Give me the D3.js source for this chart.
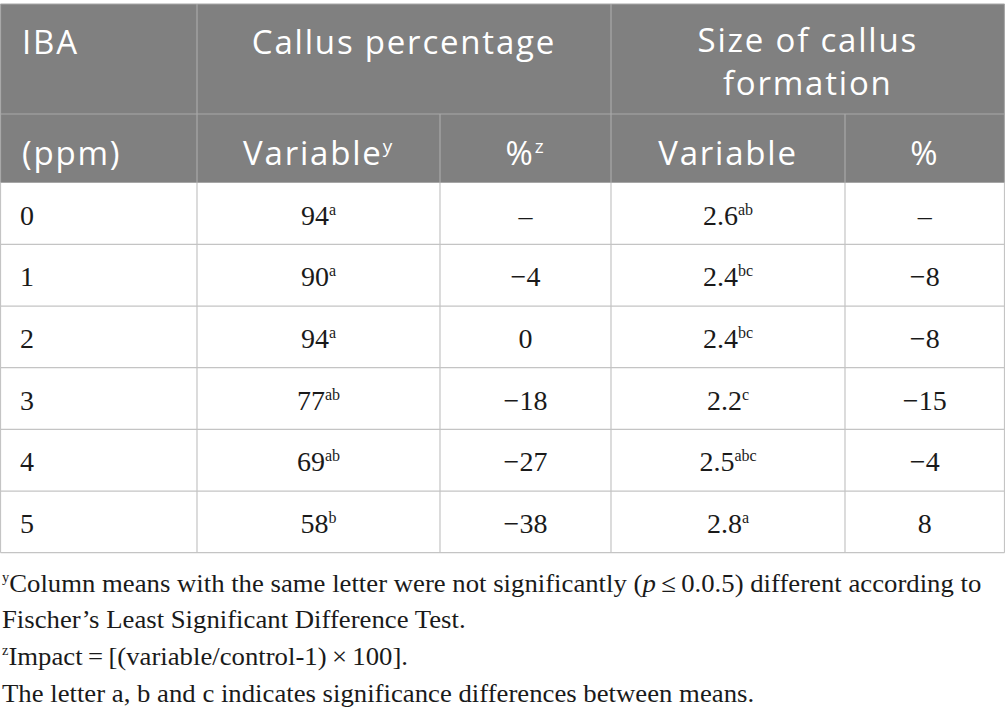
<!DOCTYPE html>
<html>
<head>
<meta charset="utf-8">
<script src="https://cdn.jsdelivr.net/npm/d3@7"></script>
<style>
  body { margin: 0; background: #fff; }
  .head { font-family: "Open Sans", sans-serif; fill: #fff; }
  .cell { font-family: "Liberation Serif", serif; fill: #1a1a1a; }
  .note { font-family: "Liberation Serif", serif; fill: #1a1a1a; }
</style>
</head>
<body>
<svg id="table"></svg>
<script>
// DATA
const iba = ["0", "1", "2", "3", "4", "5"]
const callusPct = [94, 90, 94, 77, 69, 58]
const callusPctSig = ["a", "a", "a", "ab", "ab", "b"]
const callusImpact = [null, -4, 0, -18, -27, -38]
const callusSize = [2.6, 2.4, 2.4, 2.2, 2.5, 2.8]
const callusSizeSig = ["ab", "bc", "bc", "c", "abc", "a"]
const sizeImpact = [null, -8, -8, -15, -4, 8]

const width = 1005
const height = 718

const svg = d3.select("#table").attr("width", width).attr("height", height)

// column edges and row bands
const edges = [0.5, 197, 440, 611, 845, 1004.5]
const tableTop = 4, head1 = 114, head2 = 182.7, tableBottom = 552.7

const y = d3.scaleBand()
  .domain(iba)
  .range([head2, tableBottom])

const mid = function(i) { return (edges[i] + edges[i + 1]) / 2 }

function fmt(v) {
  if (v === null) return "\u2013"
  return v < 0 ? "\u2212" + Math.abs(v) : String(v)
}

// header background
svg.append("rect")
  .attr("x", edges[0]).attr("y", tableTop)
  .attr("width", edges[5] - edges[0]).attr("height", head2 - tableTop)
  .attr("fill", "#808080")

// grid lines
const grid = svg.append("g")

// header lines
const headLines = [
  [edges[0], tableTop, edges[5], tableTop],
  [edges[0], head1, edges[5], head1],
  [edges[1], tableTop, edges[1], head2],
  [edges[3], tableTop, edges[3], head2],
  [edges[2], head1, edges[2], head2],
  [edges[4], head1, edges[4], head2],
  [edges[0], tableTop, edges[0], head2],
  [edges[5], tableTop, edges[5], head2]
]
grid.selectAll(".hl")
  .data(headLines)
  .join("line")
    .attr("class", "hl")
    .attr("x1", d => d[0]).attr("y1", d => d[1])
    .attr("x2", d => d[2]).attr("y2", d => d[3])
    .attr("stroke", "#a8a8a8")
    .attr("stroke-width", 1.2)

// body horizontal lines
grid.selectAll(".rl")
  .data(iba)
  .join("line")
    .attr("class", "rl")
    .attr("x1", edges[0]).attr("x2", edges[5])
    .attr("y1", d => y(d) + y.bandwidth())
    .attr("y2", d => y(d) + y.bandwidth())
    .attr("stroke", "#c4c4c4")
    .attr("stroke-width", 1.2)

// body vertical lines
grid.selectAll(".vl")
  .data(edges)
  .join("line")
    .attr("class", "vl")
    .attr("x1", d => d).attr("x2", d => d)
    .attr("y1", head2).attr("y2", tableBottom)
    .attr("stroke", "#c4c4c4")
    .attr("stroke-width", 1.2)

// HEADER TEXT
const hsize = 33
function headText(x, yy, txt, anchor, sup) {
  const t = svg.append("text")
    .attr("class", "head")
    .attr("x", x).attr("y", yy)
    .attr("text-anchor", anchor)
    .attr("font-size", hsize)
    .attr("letter-spacing", 1.8)
  t.append("tspan").text(txt)
  if (sup) {
    t.append("tspan")
      .attr("font-size", 19)
      .attr("dy", -12)
      .text(sup)
  }
  return t
}

headText(22, 54, "IBA", "start")
headText((edges[1] + edges[3]) / 2, 54, "Callus percentage", "middle")
headText((edges[3] + edges[5]) / 2, 52, "Size of callus", "middle")
headText((edges[3] + edges[5]) / 2, 95, "formation", "middle")
headText(22, 165, "(ppm)", "start")
headText(mid(1), 165, "Variable", "middle", "y")
headText(mid(2), 165, "%", "middle", "z")
headText(mid(3), 165, "Variable", "middle")
headText(mid(4), 165, "%", "middle")

// BODY TEXT
const csize = 28
function cellText(x, row, txt, anchor, sup) {
  const t = svg.append("text")
    .attr("class", "cell")
    .attr("x", x)
    .attr("y", y(row) + y.bandwidth() / 2 + 11)
    .attr("text-anchor", anchor)
    .attr("font-size", csize)
  t.append("tspan").text(txt)
  if (sup) {
    t.append("tspan")
      .attr("font-size", 16)
      .attr("dy", -10)
      .text(sup)
  }
}

iba.forEach(function(d, i) {
  cellText(20, d, d, "start")
  cellText(mid(1), d, fmt(callusPct[i]), "middle", callusPctSig[i])
  cellText(mid(2), d, fmt(callusImpact[i]), "middle")
  cellText(mid(3), d, callusSize[i].toFixed(1), "middle", callusSizeSig[i])
  cellText(mid(4), d, fmt(sizeImpact[i]), "middle")
})

// FOOTNOTES
const notes = svg.append("g")
const nsize = 26

const n1 = notes.append("text").attr("class", "note").attr("x", 2).attr("y", 592).attr("font-size", nsize)
n1.append("tspan").attr("font-size", 14).attr("dy", -10).text("y")
n1.append("tspan").attr("dy", 10).text("Column means with the same letter were not significantly (")
n1.append("tspan").attr("font-style", "italic").text("p")
n1.append("tspan").text("\u2009\u2264\u20090.0.5) different according to")

notes.append("text").attr("class", "note").attr("x", 2).attr("y", 628).attr("font-size", nsize)
  .text("Fischer\u2019s Least Significant Difference Test.")

const n3 = notes.append("text").attr("class", "note").attr("x", 2).attr("y", 665).attr("font-size", nsize)
n3.append("tspan").attr("font-size", 14).attr("dy", -10).text("z")
n3.append("tspan").attr("dy", 10).text("Impact\u2009=\u2009[(variable/control-1)\u2009\u00d7\u2009100].")

notes.append("text").attr("class", "note").attr("x", 2).attr("y", 702).attr("font-size", nsize)
  .text("The letter a, b and c indicates significance differences between means.")

// squeeze footnotes so the first line ends where the original does
const len = n1.node().getComputedTextLength()
const k = (982 - 2) / len
notes.attr("transform", "translate(2,0) scale(" + k + ",1) translate(-2,0)")
</script>
</body>
</html>
